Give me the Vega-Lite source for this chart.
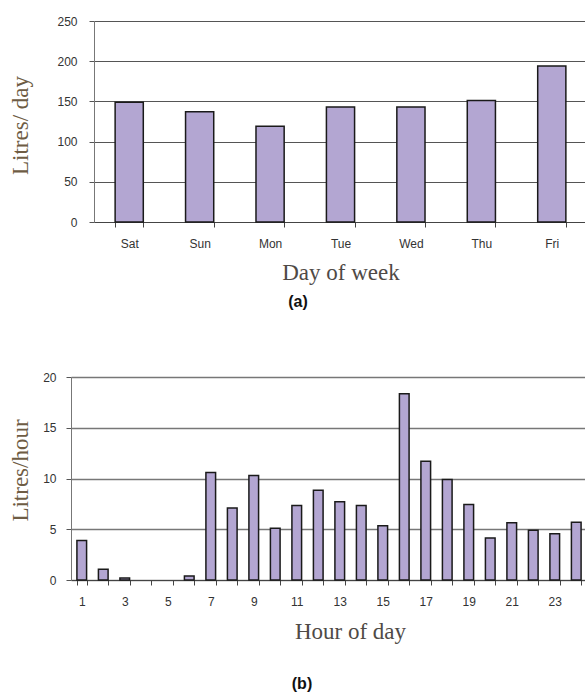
{
  "$schema": "https://vega.github.io/schema/vega-lite/v6.json",
  "padding": {"left": 8, "top": 15, "right": 0, "bottom": 0},
  "background": "white",
  "spacing": 61,
  "config": {
    "view": {"stroke": null},
    "axis": {
      "labelFont": "Liberation Sans",
      "labelFontSize": 12,
      "labelColor": "#333333",
      "titleFont": "Liberation Serif",
      "titleFontWeight": "normal",
      "titleFontSize": 23
    },
    "title": {"font": "Liberation Sans", "fontWeight": "bold", "fontSize": 16, "color": "#111111"}
  },
  "vconcat": [
    {
      "width": 516,
      "height": 201,
      "title": {"text": "(a)", "orient": "bottom", "offset": 10, "dx": -31},
      "data": {"values": [
        {"day": "Sat", "litres": 149},
        {"day": "Sun", "litres": 137},
        {"day": "Mon", "litres": 119},
        {"day": "Tue", "litres": 143},
        {"day": "Wed", "litres": 143},
        {"day": "Thu", "litres": 151},
        {"day": "Fri", "litres": 194}
      ]},
      "mark": {"type": "bar", "fill": "#b3a6d2", "stroke": "#1a1a1a", "strokeWidth": 1.5},
      "encoding": {
        "x": {
          "field": "day", "type": "nominal", "sort": null,
          "scale": {"paddingInner": 0.6, "paddingOuter": 0.3, "range": [23, 516]},
          "axis": {
            "labelAngle": 0, "tickBand": "extent", "domainColor": "#444444", "tickColor": "#444444",
            "tickSize": 5, "labelPadding": 11, "title": "Day of week", "titleColor": "#4f4a46", "titlePadding": 12
          }
        },
        "y": {
          "field": "litres", "type": "quantitative",
          "scale": {"domain": [0, 250]},
          "axis": {
            "offset": -23,
            "values": [0, 50, 100, 150, 200, 250], "grid": true, "gridColor": "#555555",
            "domainColor": "#777777", "tickColor": "#555555", "tickSize": 5, "labelPadding": 12,
            "title": "Litres/ day", "titleColor": "#6e5c44", "titleBaseline": "middle",
            "titleAngle": -90, "titleX": -74, "titleY": 104
          }
        }
      }
    },
    {
      "width": 516,
      "height": 203,
      "title": {"text": "(b)", "orient": "bottom", "offset": 33, "dx": -27},
      "data": {"values": [
        {"hour": 1, "litres": 3.9}, {"hour": 2, "litres": 1.05}, {"hour": 3, "litres": 0.2},
        {"hour": 4, "litres": 0}, {"hour": 5, "litres": 0}, {"hour": 6, "litres": 0.4},
        {"hour": 7, "litres": 10.6}, {"hour": 8, "litres": 7.1}, {"hour": 9, "litres": 10.3},
        {"hour": 10, "litres": 5.1}, {"hour": 11, "litres": 7.35}, {"hour": 12, "litres": 8.85},
        {"hour": 13, "litres": 7.7}, {"hour": 14, "litres": 7.35}, {"hour": 15, "litres": 5.35},
        {"hour": 16, "litres": 18.35}, {"hour": 17, "litres": 11.7}, {"hour": 18, "litres": 9.9},
        {"hour": 19, "litres": 7.45}, {"hour": 20, "litres": 4.15}, {"hour": 21, "litres": 5.65},
        {"hour": 22, "litres": 4.9}, {"hour": 23, "litres": 4.55}, {"hour": 24, "litres": 5.7}
      ]},
      "mark": {"type": "bar", "fill": "#b3a6d2", "stroke": "#1a1a1a", "strokeWidth": 1.5},
      "encoding": {
        "x": {
          "field": "hour", "type": "ordinal",
          "scale": {"paddingInner": 0.55, "paddingOuter": 0.275},
          "axis": {
            "labelAngle": 0, "tickBand": "extent", "domainColor": "#444444", "tickColor": "#444444",
            "tickSize": 5, "labelPadding": 11,
            "labelExpr": "datum.value % 2 === 1 ? datum.label : ''",
            "title": "Hour of day", "titleColor": "#4f4a46", "titlePadding": 13, "titleX": 279
          }
        },
        "y": {
          "field": "litres", "type": "quantitative",
          "scale": {"domain": [0, 20]},
          "axis": {
            "values": [0, 5, 10, 15, 20], "grid": true, "gridColor": "#777777", "gridWidth": 1.3,
            "domainColor": "#777777", "tickColor": "#555555", "tickSize": 5, "labelPadding": 10,
            "title": "Litres/hour", "titleColor": "#6e5c44", "titleBaseline": "middle",
            "titleAngle": -90, "titleX": -51, "titleY": 93
          }
        },
        "strokeOpacity": {"condition": {"test": "datum.litres === 0", "value": 0}, "value": 1}
      }
    }
  ]
}
